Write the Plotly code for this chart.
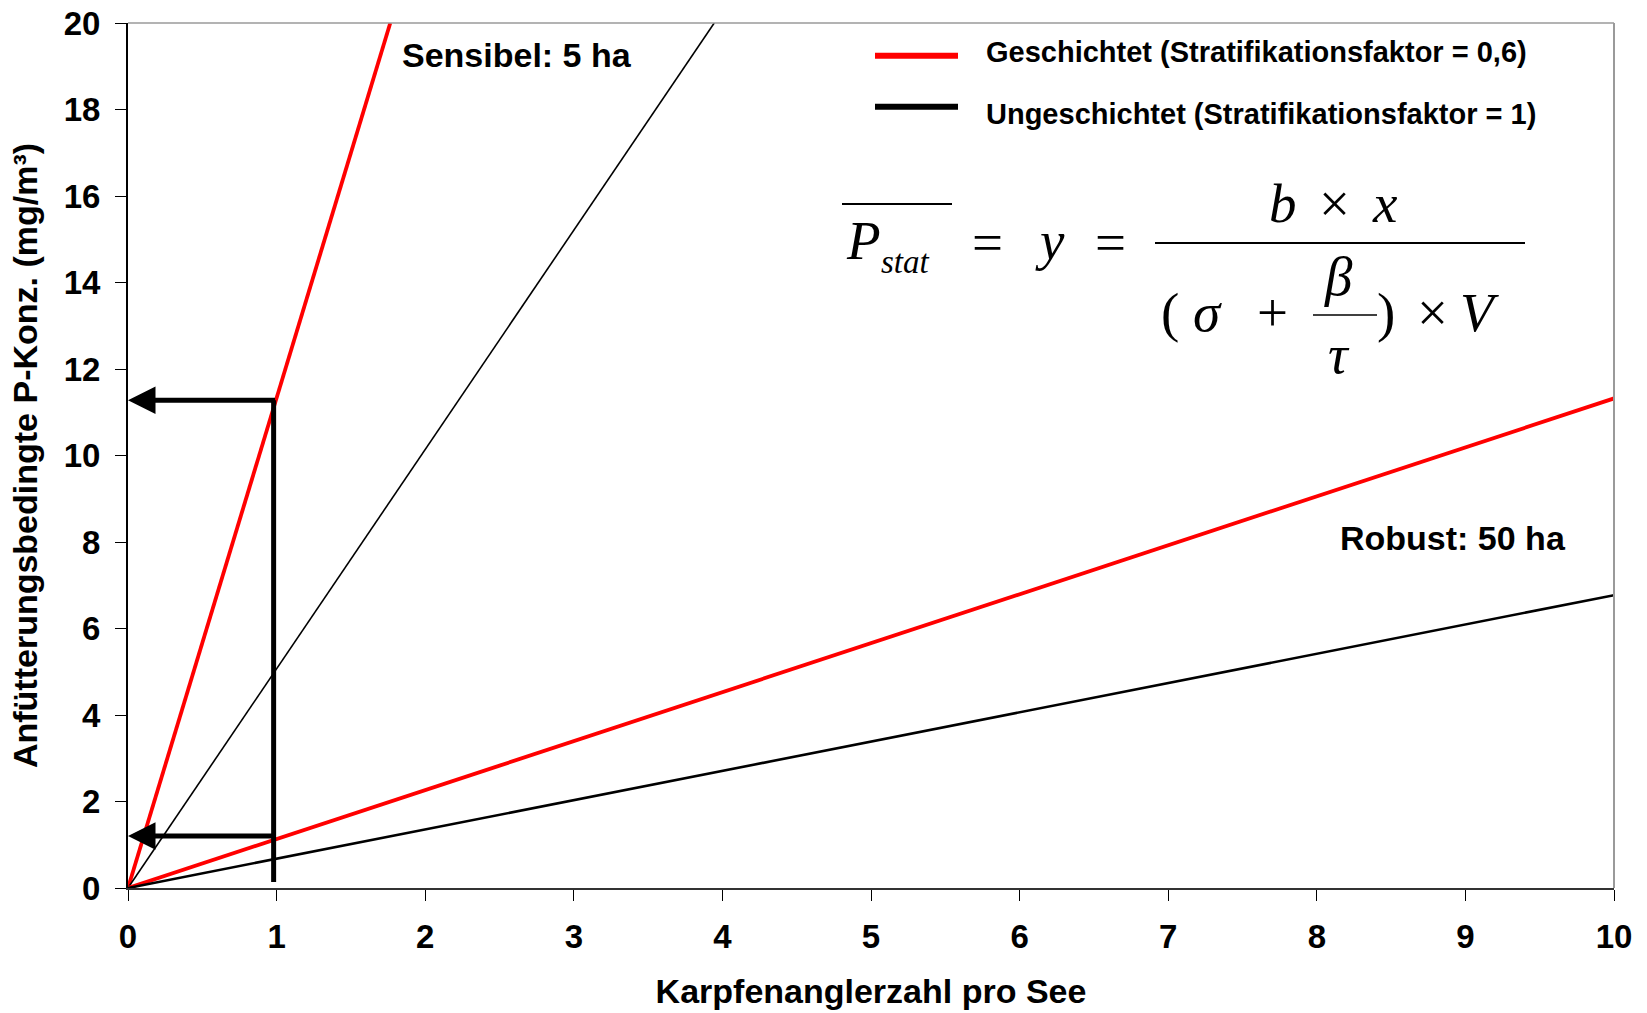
import plotly.graph_objects as go

# ---------------- data ----------------
# line end points (all lines start at the origin)
line_names = ["Sensibel 5 ha – geschichtet", "Sensibel 5 ha – ungeschichtet",
              "Robust 50 ha – geschichtet", "Robust 50 ha – ungeschichtet"]
line_x_end = [1.765, 3.945, 10.0, 10.0]
line_y_end = [20.0, 20.0, 11.32, 6.77]
line_colors = ["#ff0000", "#000000", "#ff0000", "#000000"]
line_widths = [3.8, 1.6, 3.8, 2.6]

# reading example: 1 angler per lake
read_x = [0.98, 0.98]
read_y = [11.28, 1.20]
read_base_y = 0.14

x_ticks = [0, 1, 2, 3, 4, 5, 6, 7, 8, 9, 10]
y_ticks = [0, 2, 4, 6, 8, 10, 12, 14, 16, 18, 20]

legend_labels = ["Geschichtet (Stratifikationsfaktor = 0,6)",
                 "Ungeschichtet (Stratifikationsfaktor = 1)"]
legend_colors = ["#ff0000", "#000000"]

# ---------------- geometry helpers ----------------
W, H = 1647, 1013
L, R, T, B = 128, 1614, 23, 888


def pxx(p):
    return (p - L) / (R - L)


def pxy(p):
    return (B - p) / (B - T)


SANS = "Liberation Sans, Arial, sans-serif"
SERIF = "Liberation Serif, Times New Roman, serif"

fig = go.Figure()

for name, xe, ye, c, w in zip(line_names, line_x_end, line_y_end, line_colors, line_widths):
    fig.add_trace(go.Scatter(x=[0, xe], y=[0, ye], mode="lines", name=name,
                             line=dict(color=c, width=w), showlegend=False,
                             hoverinfo="skip"))

# vertical reading line at x = 1
fig.add_trace(go.Scatter(x=[read_x[0], read_x[0]], y=[read_base_y, max(read_y)],
                         mode="lines", line=dict(color="black", width=5),
                         showlegend=False, hoverinfo="skip"))

annotations = []
# horizontal arrows to the y axis
for rx, ry in zip(read_x, read_y):
    annotations.append(dict(x=0, y=ry, ax=rx + 0.02, ay=ry, xref="x", yref="y",
                            axref="x", ayref="y", text="", showarrow=True,
                            arrowhead=2, arrowsize=1.1, arrowwidth=5,
                            arrowcolor="black", standoff=0, startstandoff=0))

# text labels
annotations.append(dict(x=1.83, y=19.27, xref="x", yref="y", text="Sensibel: 5 ha",
                        showarrow=False, xanchor="left", yanchor="middle",
                        font=dict(family=SANS, size=34, color="black", weight="bold")))
annotations.append(dict(x=9.69, y=8.09, xref="x", yref="y", text="Robust: 50 ha",
                        showarrow=False, xanchor="right", yanchor="middle",
                        font=dict(family=SANS, size=34, color="black", weight="bold")))

# legend (drawn manually so the line samples are long)
shapes = []
leg_fs = 29
leg_line_y = [55.7, 106.7]
leg_text_y = [52.5, 114.0]
for lab, col, ly, ty in zip(legend_labels, legend_colors, leg_line_y, leg_text_y):
    shapes.append(dict(type="line", xref="paper", yref="paper",
                       x0=pxx(875), x1=pxx(958), y0=pxy(ly), y1=pxy(ly),
                       line=dict(color=col, width=6)))
    annotations.append(dict(x=pxx(984), y=pxy(ty), xref="paper", yref="paper",
                            text=lab, showarrow=False, xanchor="left", yanchor="middle",
                            font=dict(family=SANS, size=leg_fs, color="black",
                                      weight="bold")))

# formula  P_stat (overlined) = y = b×x / ((σ + β/τ) × V)
F = 55
formula = [
    # text, center x px, baseline px, size, italic
    ("P", 863, 259, F, True),
    ("stat", 905, 273, 33, True),
    ("=", 987, 261, F, False),
    ("y", 1050, 259, F, True),
    ("=", 1110, 261, F, False),
    ("b", 1283, 222, F, True),
    ("×", 1334, 222, F, False),
    ("x", 1385, 222, F, True),
    ("(", 1170, 331, F, False),
    ("σ", 1207, 331, F, True),
    ("+", 1272, 331, F, False),
    ("β", 1338, 295, F, True),
    ("τ", 1339, 373, F, True),
    (")", 1386, 331, F, False),
    ("×", 1432, 331, F, False),
    ("V", 1479, 331, F, True),
]
for txt, cx, base, fs, it in formula:
    t = f"<i>{txt}</i>" if it else txt
    annotations.append(dict(x=pxx(cx), y=pxy(base - 0.34 * fs), xref="paper", yref="paper",
                            text=t, showarrow=False, xanchor="center", yanchor="middle",
                            font=dict(family=SERIF, size=fs, color="black")))

for x0, x1, yy, w in [(842, 952, 204, 2.2), (1155, 1525, 243, 2.2), (1313, 1377, 315, 1.3)]:
    shapes.append(dict(type="line", xref="paper", yref="paper",
                       x0=pxx(x0), x1=pxx(x1), y0=pxy(yy), y1=pxy(yy),
                       line=dict(color="black", width=w)))

# grey frame on top and right
shapes.append(dict(type="line", xref="paper", yref="paper", x0=0, x1=1, y0=1, y1=1,
                   line=dict(color="#9a9a9a", width=1.5)))
shapes.append(dict(type="line", xref="paper", yref="paper", x0=1, x1=1, y0=0, y1=1,
                   line=dict(color="#9a9a9a", width=2)))

tick_font = dict(family=SANS, size=33, color="black", weight="bold")
title_font = dict(family=SANS, size=34, color="black", weight="bold")

fig.update_layout(
    width=W, height=H,
    margin=dict(l=L, r=W - R, t=T, b=H - B, autoexpand=False),
    paper_bgcolor="white", plot_bgcolor="white",
    showlegend=False,
    annotations=annotations,
    shapes=shapes,
    xaxis=dict(range=[0, 10], tickvals=x_ticks, ticktext=[str(v) for v in x_ticks],
               showgrid=False, zeroline=False, showline=True, linecolor="#333333",
               linewidth=2, ticks="outside", ticklen=11, tickwidth=1, tickcolor="black",
               tickfont=tick_font, ticklabelstandoff=7,
               title=dict(text="Karpfenanglerzahl pro See", font=title_font, standoff=26)),
    yaxis=dict(range=[0, 20], tickvals=y_ticks, ticktext=[str(v) for v in y_ticks],
               showgrid=False, zeroline=False, showline=True, linecolor="black",
               linewidth=2, ticks="outside", ticklen=11, tickwidth=1, tickcolor="black",
               tickfont=tick_font, ticklabelstandoff=8,
               title=dict(text="Anfütterungsbedingte P-Konz. (mg/m³)", font=title_font,
                          standoff=16)),
)

fig.write_html("out.html")
